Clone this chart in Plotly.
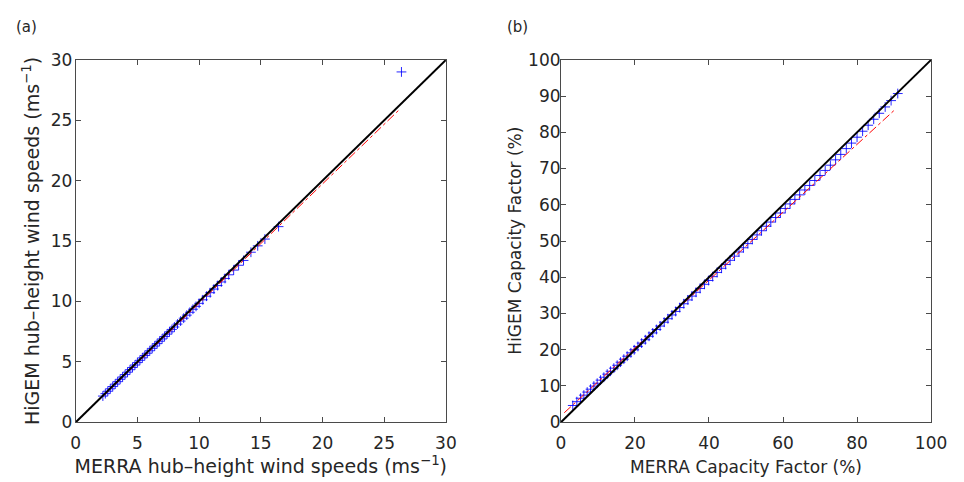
import plotly.graph_objects as go

# ---- Panel (a): hub-height wind speed quantiles (m/s) ----
merra_ws = [2.2, 2.4, 2.6, 2.8, 3.0, 3.2, 3.4, 3.6, 3.8, 4.0, 4.2, 4.4, 4.6, 4.8,
            5.0, 5.2, 5.4, 5.6, 5.8, 6.0, 6.2, 6.4, 6.6, 6.8, 7.0, 7.2, 7.4, 7.6,
            7.8, 8.0, 8.25, 8.5, 8.75, 9.0, 9.25, 9.5, 9.75, 10.0, 10.3, 10.6,
            10.9, 11.2, 11.5, 11.8, 12.1, 12.4, 12.8, 13.2, 13.6, 14.2, 14.75,
            15.33, 16.44, 26.4]
higem_ws = [2.16, 2.36, 2.56, 2.76, 2.95, 3.15, 3.35, 3.55, 3.74, 3.94, 4.14, 4.34,
            4.53, 4.73, 4.93, 5.12, 5.32, 5.52, 5.71, 5.91, 6.11, 6.3, 6.5,
            6.7, 6.89, 7.09, 7.29, 7.48, 7.68, 7.88, 8.12, 8.37, 8.61, 8.86, 9.1,
            9.35, 9.59, 9.84, 10.13, 10.43, 10.72, 11.02, 11.31, 11.61, 11.9,
            12.2, 12.59, 12.99, 13.39, 14.07, 14.6, 15.16, 16.19, 29.0]
fit_ws_x = [2.2, 26.2]
fit_ws_y = [2.14, 25.85]
diag_ws = [0, 30]

# ---- Panel (b): capacity factor quantiles (%) ----
merra_cf = [3.2, 4.3, 5.3, 6.2, 7.1, 8.0, 8.9, 9.8, 10.7, 11.6, 12.5, 13.4, 14.3,
            15.2, 16.1, 17.0, 17.9, 18.9, 19.8, 20.8, 21.8, 22.8, 23.8, 24.8,
            25.8, 26.8, 27.9, 28.9, 30.0, 31.0, 32.1, 33.2, 34.3, 35.4, 36.5,
            37.6, 38.8, 39.9, 41.0, 42.2, 43.4, 44.5, 45.7, 46.9, 48.1, 49.3,
            50.5, 51.7, 53.0, 54.2, 55.5, 56.7, 58.0, 59.3, 60.6, 61.9, 63.2,
            64.5, 65.9, 67.2, 68.6, 70.0, 71.4, 72.8, 74.2, 75.6, 77.1, 78.5,
            80.0, 81.5, 83.0, 84.5, 86.0, 87.6, 89.2, 91.0]
higem_cf = [4.6, 5.65, 6.6, 7.45, 8.3, 9.1, 9.95, 10.75, 11.6, 12.4, 13.25, 14.05,
            14.9, 15.7, 16.55, 17.38, 18.2, 19.14, 19.97, 20.9, 21.82, 22.75,
            23.7, 24.63, 25.58, 26.53, 27.59, 28.55, 29.6, 30.56, 31.62, 32.68,
            33.74, 34.8, 35.85, 36.9, 38.05, 39.1, 40.16, 41.32, 42.47, 43.52,
            44.67, 45.82, 46.97, 48.13, 49.28, 50.43, 51.68, 52.83, 54.08, 55.23,
            56.48, 57.73, 58.98, 60.23, 61.48, 62.73, 64.08, 65.34, 66.7, 68.08,
            69.48, 70.92, 72.4, 73.9, 75.5, 77.02, 78.65, 80.3, 81.95, 83.6,
            85.25, 87.0, 88.75, 90.7]
fit_cf_x = [0.9, 90.5]
fit_cf_y = [2.6, 86.5]
diag_cf = [0, 100]

ticks_ws = [0, 5, 10, 15, 20, 25, 30]
ticks_cf_x = [0, 20, 40, 60, 80, 100]
ticks_cf_y = [0, 10, 20, 30, 40, 50, 60, 70, 80, 90, 100]

FONT = "DejaVu Sans"
TXT = "#262626"
AX = "#4a4a4a"

fig = go.Figure()

def add_panel(xa, ya, xq, yq, fx, fy, diag):
    fig.add_trace(go.Scatter(
        x=xq, y=yq, mode="markers", xaxis=xa, yaxis=ya,
        marker=dict(symbol="cross-thin", size=7, color="rgba(0,0,255,0.85)",
                    line=dict(width=1, color="rgba(0,0,255,0.85)")),
        showlegend=False, hoverinfo="skip"))
    fig.add_trace(go.Scatter(
        x=fx, y=fy, mode="lines", xaxis=xa, yaxis=ya,
        line=dict(color="red", width=1, dash="dashdot"),
        showlegend=False, hoverinfo="skip"))
    fig.add_trace(go.Scatter(
        x=diag, y=diag, mode="lines", xaxis=xa, yaxis=ya,
        line=dict(color="black", width=2),
        showlegend=False, hoverinfo="skip"))

add_panel("x", "y", merra_ws, higem_ws, fit_ws_x, fit_ws_y, diag_ws)
add_panel("x2", "y2", merra_cf, higem_cf, fit_cf_x, fit_cf_y, diag_cf)

axis_common = dict(
    showgrid=False, zeroline=False, showline=True, linecolor=AX, linewidth=1,
    mirror="ticks", ticks="inside", ticklen=5, tickcolor=AX, tickwidth=1,
    tickfont=dict(family=FONT, size=17, color=TXT),
)
ws_title_font = dict(family=FONT, size=19, color=TXT)
cf_title_font = dict(family=FONT, size=17, color=TXT)

ydom = [1 - 430 / 482, 1 - 52 / 482]

fig.update_layout(
    width=964, height=482,
    margin=dict(l=0, r=0, t=0, b=0),
    paper_bgcolor="white", plot_bgcolor="white",
    xaxis=dict(domain=[72.3 / 964, 450.7 / 964], range=[0, 30],
               tickvals=ticks_ws, anchor="y", ticklabelstandoff=5,
               title=dict(text="MERRA hub\u2013height wind speeds (ms<sup>\u22121</sup>)",
                          standoff=8, font=ws_title_font),
               **axis_common),
    yaxis=dict(domain=ydom, range=[0, 30], tickvals=ticks_ws, anchor="x",
               ticklabelstandoff=-1,
               title=dict(text="HiGEM hub\u2013height wind speeds (ms<sup>\u22121</sup>)",
                          standoff=6, font=ws_title_font),
               **axis_common),
    xaxis2=dict(domain=[568.3 / 964, 946.7 / 964], range=[0, 100],
                tickvals=ticks_cf_x, anchor="y2", ticklabelstandoff=5,
                title=dict(text="MERRA Capacity Factor (%)", standoff=9,
                           font=cf_title_font),
                **axis_common),
    yaxis2=dict(domain=ydom, range=[0, 100], tickvals=ticks_cf_y, anchor="x2",
                ticklabelstandoff=-4, **axis_common),
    annotations=[
        dict(text="(a)", x=9 / 964, y=1 - 18 / 482, xref="paper", yref="paper",
             xanchor="left", yanchor="middle", showarrow=False,
             font=dict(family=FONT, size=15, color=TXT)),
        dict(text="(b)", x=511 / 964, y=1 - 18 / 482, xref="paper", yref="paper",
             xanchor="left", yanchor="middle", showarrow=False,
             font=dict(family=FONT, size=15, color=TXT)),
        dict(text="HiGEM Capacity Factor (%)", textangle=-90,
             x=521 / 964, y=1 - 241 / 482, xref="paper", yref="paper",
             xanchor="center", yanchor="middle", showarrow=False,
             font=cf_title_font),
    ],
)

fig.write_html("out.html")
